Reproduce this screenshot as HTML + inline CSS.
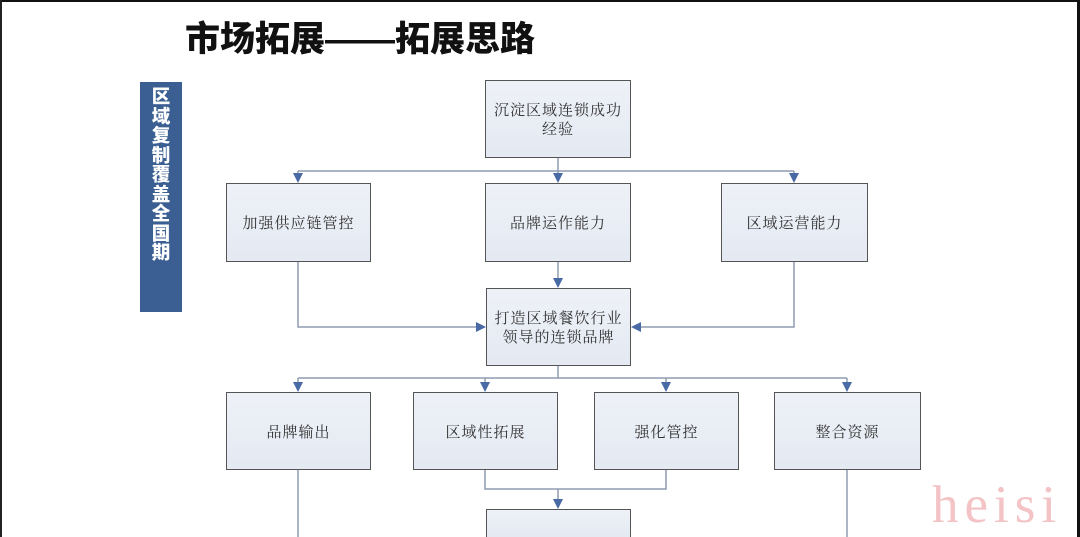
<!DOCTYPE html>
<html><head><meta charset="utf-8"><style>
html,body{margin:0;padding:0;background:#fff;width:1080px;height:537px;overflow:hidden;}
body{position:relative;}
.title{position:absolute;left:185px;top:17px;font-family:"Liberation Sans","Noto Sans CJK SC",sans-serif;font-weight:900;font-size:35px;line-height:46px;color:#111;white-space:nowrap;}
.bar{position:absolute;left:140px;top:82px;width:42px;height:230px;background:#3b5f92;}
.bar span{position:absolute;left:0;top:5px;width:42px;text-align:center;font-family:"Noto Sans CJK SC",sans-serif;font-weight:900;font-size:18.5px;line-height:19.5px;color:#fff;}
.box{position:absolute;box-sizing:border-box;border:1.5px solid #555;background:linear-gradient(#eef1f7,#e4e9f2);display:flex;align-items:center;justify-content:center;text-align:center;font-family:"Noto Serif CJK SC","Liberation Serif",serif;font-size:15px;line-height:19px;color:#333;letter-spacing:1px;}
.wm{position:absolute;left:932px;top:470px;font-family:"Liberation Serif",serif;font-size:53px;color:#f3c3c6;letter-spacing:6px;line-height:70px;}
</style></head><body>
<div style="position:absolute;left:0;top:0;width:1080px;height:2px;background:#111"></div>
<div style="position:absolute;left:0;top:0;width:2px;height:537px;background:#222"></div>
<div style="position:absolute;left:1077px;top:0;width:3px;height:537px;background:#111"></div>

<div class="title">市场拓展——拓展思路</div>
<div class="bar"><span>区<br>域<br>复<br>制<br>覆<br>盖<br>全<br>国<br>期</span></div>

<svg style="position:absolute;left:0;top:0" width="1080" height="537">
<g stroke="#8e9cb2" stroke-width="1.5" fill="none">
<line x1="558" y1="158" x2="558" y2="175"/>
<line x1="298" y1="171" x2="794" y2="171"/>
<line x1="298" y1="171" x2="298" y2="175"/>
<line x1="794" y1="171" x2="794" y2="175"/>
<line x1="558" y1="262" x2="558" y2="280"/>
<polyline points="298,262 298,327 478,327"/>
<polyline points="794,262 794,327 639,327"/>
<line x1="558" y1="366" x2="558" y2="378"/>
<line x1="298" y1="378" x2="847" y2="378"/>
<line x1="298" y1="378" x2="298" y2="384"/>
<line x1="485" y1="378" x2="485" y2="384"/>
<line x1="666" y1="378" x2="666" y2="384"/>
<line x1="847" y1="378" x2="847" y2="384"/>
<polyline points="485,470 485,489 666,489 666,470"/>
<line x1="558" y1="489" x2="558" y2="500"/>
<line x1="298" y1="470" x2="298" y2="537"/>
<line x1="847" y1="470" x2="847" y2="537"/>
</g>
<g fill="#4a6aa6">
<polygon points="553,173 563,173 558,183"/>
<polygon points="293,173 303,173 298,183"/>
<polygon points="789,173 799,173 794,183"/>
<polygon points="553,278 563,278 558,288"/>
<polygon points="476,322 476,332 486,327"/>
<polygon points="641,322 641,332 631,327"/>
<polygon points="293,382 303,382 298,392"/>
<polygon points="480,382 490,382 485,392"/>
<polygon points="661,382 671,382 666,392"/>
<polygon points="842,382 852,382 847,392"/>
<polygon points="553,499 563,499 558,509"/>
</g>
</svg>

<div class="box" style="left:485px;top:80px;width:146px;height:78px;">沉淀区域连锁成功<br>经验</div>
<div class="box" style="left:226px;top:183px;width:145px;height:79px;">加强供应链管控</div>
<div class="box" style="left:485px;top:183px;width:146px;height:79px;">品牌运作能力</div>
<div class="box" style="left:721px;top:183px;width:147px;height:79px;">区域运营能力</div>
<div class="box" style="left:486px;top:288px;width:145px;height:78px;">打造区域餐饮行业<br>领导的连锁品牌</div>
<div class="box" style="left:226px;top:392px;width:145px;height:78px;">品牌输出</div>
<div class="box" style="left:413px;top:392px;width:145px;height:78px;">区域性拓展</div>
<div class="box" style="left:594px;top:392px;width:145px;height:78px;">强化管控</div>
<div class="box" style="left:774px;top:392px;width:147px;height:78px;">整合资源</div>
<div class="box" style="left:486px;top:509px;width:145px;height:28px;border-bottom:none;"></div>

<div class="wm">heisi</div>
</body></html>
